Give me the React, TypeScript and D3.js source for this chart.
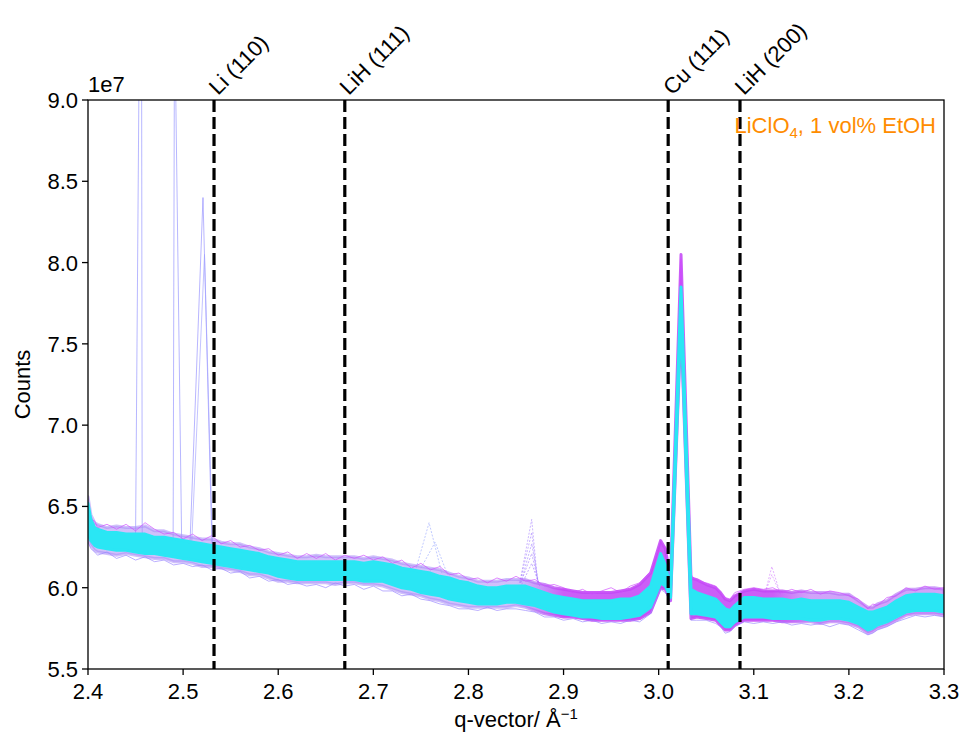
import React from "react";
import * as d3 from "d3";

// q grid (Å^-1) shared by the band envelopes
const Q = [
  2.400, 2.403, 2.407, 2.41, 2.42, 2.43, 2.44, 2.45, 2.46, 2.47, 2.48, 2.49, 2.50,
  2.51, 2.52, 2.53, 2.54, 2.55, 2.56, 2.57, 2.58, 2.59, 2.60, 2.61, 2.62, 2.63,
  2.64, 2.65, 2.66, 2.67, 2.68, 2.69, 2.70, 2.71, 2.72, 2.73, 2.74, 2.75, 2.76,
  2.77, 2.78, 2.79, 2.80, 2.81, 2.82, 2.83, 2.84, 2.85, 2.86, 2.87, 2.88, 2.89,
  2.90, 2.91, 2.92, 2.93, 2.94, 2.95, 2.96, 2.97, 2.98, 2.9915, 3.002, 3.007,
  3.0125, 3.0235, 3.034, 3.04, 3.05, 3.06, 3.065, 3.07, 3.075, 3.08, 3.09, 3.10,
  3.11, 3.12, 3.13, 3.14, 3.15, 3.16, 3.17, 3.18, 3.19, 3.20, 3.21, 3.22, 3.225,
  3.23, 3.24, 3.25, 3.26, 3.27, 3.28, 3.29, 3.30,
];
// outer envelope of all scans (counts / 1e7)
const TOP = [
  6.56, 6.45, 6.40, 6.39, 6.37, 6.38, 6.37, 6.37, 6.38, 6.35, 6.35, 6.33, 6.32,
  6.31, 6.30, 6.30, 6.28, 6.27, 6.27, 6.25, 6.24, 6.22, 6.21, 6.20, 6.19, 6.19,
  6.20, 6.19, 6.19, 6.19, 6.19, 6.18, 6.19, 6.18, 6.17, 6.15, 6.14, 6.13, 6.12,
  6.11, 6.09, 6.07, 6.06, 6.04, 6.04, 6.04, 6.05, 6.05, 6.05, 6.03, 6.02, 6.00,
  5.99, 5.98, 5.97, 5.97, 5.97, 5.97, 5.98, 5.99, 6.02, 6.09, 6.29, 6.24,
  6.06, 8.05, 6.06, 6.05, 6.02, 6.00, 5.97, 5.93, 5.92, 5.95, 5.98, 5.99,
  5.98, 5.98, 5.98, 5.97, 5.98, 5.97, 5.97, 5.97, 5.96, 5.96, 5.92, 5.88, 5.88,
  5.90, 5.92, 5.96, 5.99, 5.99, 6.00, 6.00, 5.99,
];
const BOT = [
  6.30, 6.26, 6.23, 6.22, 6.21, 6.20, 6.21, 6.20, 6.19, 6.18, 6.18, 6.16, 6.16,
  6.15, 6.13, 6.13, 6.12, 6.11, 6.10, 6.08, 6.08, 6.06, 6.04, 6.04, 6.03, 6.03,
  6.03, 6.03, 6.02, 6.03, 6.03, 6.02, 6.02, 6.01, 5.99, 5.97, 5.96, 5.95, 5.93,
  5.92, 5.90, 5.89, 5.88, 5.88, 5.88, 5.88, 5.88, 5.89, 5.88, 5.86, 5.84, 5.83,
  5.82, 5.82, 5.81, 5.80, 5.80, 5.80, 5.80, 5.80, 5.81, 5.85, 6.00, 5.99,
  5.92, 7.62, 5.81, 5.82, 5.81, 5.80, 5.77, 5.74, 5.74, 5.77, 5.80, 5.80,
  5.80, 5.80, 5.79, 5.79, 5.79, 5.79, 5.78, 5.79, 5.79, 5.78, 5.76, 5.72, 5.73,
  5.75, 5.77, 5.80, 5.83, 5.84, 5.84, 5.84, 5.83,
];
// dense (cyan) core of the scans
const CYAN_TOP = [
  6.52, 6.42, 6.37, 6.36, 6.34, 6.34, 6.33, 6.33, 6.33, 6.31, 6.31, 6.30, 6.29,
  6.28, 6.27, 6.26, 6.25, 6.24, 6.23, 6.22, 6.21, 6.19, 6.18, 6.17, 6.16, 6.16,
  6.16, 6.16, 6.16, 6.16, 6.16, 6.15, 6.16, 6.15, 6.14, 6.12, 6.11, 6.10, 6.09,
  6.07, 6.06, 6.04, 6.03, 6.01, 6.00, 6.00, 6.01, 6.01, 6.01, 5.99, 5.97, 5.95,
  5.94, 5.93, 5.92, 5.92, 5.92, 5.92, 5.93, 5.93, 5.95, 6.01, 6.21, 6.14,
  6.00, 7.85, 5.99, 5.97, 5.95, 5.93, 5.90, 5.87, 5.86, 5.89, 5.94, 5.94,
  5.93, 5.93, 5.93, 5.92, 5.93, 5.92, 5.92, 5.92, 5.92, 5.91, 5.88, 5.85, 5.85,
  5.86, 5.88, 5.92, 5.95, 5.96, 5.96, 5.96, 5.95,
];
const CYAN_BOT = [
  6.33, 6.29, 6.26, 6.25, 6.24, 6.23, 6.23, 6.22, 6.21, 6.21, 6.20, 6.19, 6.18,
  6.17, 6.16, 6.15, 6.14, 6.13, 6.12, 6.11, 6.10, 6.09, 6.07, 6.06, 6.05, 6.05,
  6.05, 6.05, 6.05, 6.05, 6.05, 6.04, 6.04, 6.04, 6.02, 6.00, 5.99, 5.97, 5.96,
  5.95, 5.93, 5.92, 5.91, 5.90, 5.90, 5.90, 5.91, 5.91, 5.90, 5.89, 5.87, 5.85,
  5.84, 5.83, 5.82, 5.82, 5.81, 5.81, 5.81, 5.82, 5.83, 5.88, 6.03, 6.01,
  5.94, 7.68, 5.84, 5.84, 5.83, 5.82, 5.79, 5.76, 5.76, 5.79, 5.82, 5.82,
  5.82, 5.81, 5.81, 5.81, 5.81, 5.80, 5.80, 5.81, 5.81, 5.80, 5.78, 5.74, 5.75,
  5.77, 5.79, 5.82, 5.85, 5.86, 5.86, 5.86, 5.85,
];
// single noisy scans along the upper (magenta) and lower (violet) edges
const EDGE_UPPER = [
  6.50, 6.42, 6.41, 6.37, 6.39, 6.36, 6.39, 6.35, 6.40, 6.36, 6.33, 6.34, 6.30,
  6.33, 6.29, 6.32, 6.27, 6.29, 6.25, 6.26, 6.23, 6.24, 6.20, 6.22, 6.18, 6.21,
  6.18, 6.21, 6.17, 6.20, 6.18, 6.20, 6.17, 6.19, 6.15, 6.17, 6.12, 6.15, 6.11,
  6.13, 6.08, 6.09, 6.05, 6.06, 6.03, 6.06, 6.04, 6.07, 6.04, 6.05, 6.01, 6.02,
  6.00, 5.97, 5.99, 5.96, 5.98, 6.00, 5.97, 6.01, 6.03, 6.10, 6.27, 6.25,
  6.07, 8.02, 6.08, 6.04, 6.03, 6.01, 5.96, 5.94, 5.93, 5.97, 5.99, 6.00,
  5.99, 6.00, 5.97, 5.99, 5.97, 5.99, 5.96, 5.98, 5.97, 5.95, 5.93, 5.87, 5.90,
  5.89, 5.94, 5.95, 6.00, 5.98, 6.01, 5.99, 6.00,
];
const EDGE_LOWER = [
  6.28, 6.24, 6.22, 6.20, 6.22, 6.18, 6.20, 6.17, 6.19, 6.16, 6.17, 6.14, 6.15,
  6.13, 6.14, 6.11, 6.12, 6.09, 6.10, 6.06, 6.07, 6.04, 6.05, 6.02, 6.03, 6.01,
  6.02, 6.00, 6.03, 6.01, 6.02, 5.99, 6.01, 5.98, 5.98, 5.95, 5.96, 5.93, 5.92,
  5.90, 5.89, 5.87, 5.87, 5.86, 5.88, 5.86, 5.87, 5.87, 5.86, 5.85, 5.82, 5.82,
  5.80, 5.81, 5.79, 5.80, 5.78, 5.79, 5.78, 5.80, 5.79, 5.84, 5.99, 5.97,
  5.92, 7.60, 5.80, 5.80, 5.80, 5.78, 5.76, 5.72, 5.73, 5.76, 5.79, 5.78,
  5.79, 5.78, 5.79, 5.77, 5.78, 5.77, 5.78, 5.76, 5.78, 5.77, 5.74, 5.71, 5.72,
  5.74, 5.76, 5.79, 5.81, 5.83, 5.82, 5.83, 5.82,
];

// isolated outlier scans (spikes and small bumps)
const SPIKE_TRACES = [
  { q: [2.4500, 2.4560, 2.4570], v: [6.30, 11.0, 6.28], c: "#8d8dff" },
  { q: [2.4895, 2.4910, 2.4985], v: [6.28, 9.6, 6.27], c: "#8d8dff" },
  { q: [2.5073, 2.5209, 2.5304], v: [6.28, 8.40, 6.25], c: "#8f8aff" },
  { q: [2.5090, 2.5225, 2.5310], v: [6.27, 8.05, 6.25], c: "#a0a0ff" },
];
const BUMP_TRACES = [
  { q: [2.745, 2.7586, 2.772], v: [6.12, 6.40, 6.09], c: "#8fa0ff" },
  { q: [2.750, 2.765, 2.778], v: [6.12, 6.28, 6.08], c: "#8fa0ff" },
  { q: [2.854, 2.8665, 2.873], v: [6.03, 6.42, 6.02], c: "#a27cff" },
  { q: [2.854, 2.8665, 2.873], v: [6.03, 6.34, 6.02], c: "#a27cff" },
  { q: [2.855, 2.8665, 2.874], v: [6.03, 6.27, 6.02], c: "#9a7aff" },
  { q: [2.855, 2.8665, 2.874], v: [6.03, 6.21, 6.02], c: "#9a70ff" },
  { q: [2.856, 2.8665, 2.875], v: [6.02, 6.15, 6.01], c: "#9a70ff" },
  { q: [3.112, 3.119, 3.128], v: [5.97, 6.13, 5.96], c: "#d074ff" },
  { q: [3.112, 3.119, 3.128], v: [5.97, 6.08, 5.96], c: "#d074ff" },
];

const REF_Q = [2.5325, 2.670, 3.010, 3.0855];
const REF_LABELS = ["Li (110)", "LiH (111)", "Cu (111)", "LiH (200)"];
const X_TICKS = [2.4, 2.5, 2.6, 2.7, 2.8, 2.9, 3.0, 3.1, 3.2, 3.3];
const Y_TICKS = [5.5, 6.0, 6.5, 7.0, 7.5, 8.0, 8.5, 9.0];

const W = 965;
const H = 738;
const L = 88, R = 944, T = 100, B = 669;
const FONT = "'Liberation Sans', Arial, sans-serif";

export default function App() {
  const x = d3.scaleLinear().domain([2.4, 3.3]).range([L, R]);
  const y = d3.scaleLinear().domain([5.5, 9.0]).range([B, T]);
  const idx = Q.map((_, i) => i);
  const off = (q: number) => (x(q) - L) / (R - L);

  const outerArea = d3.area<number>()
    .x((i) => x(Q[i]))
    .y0((i) => y(BOT[i]))
    .y1((i) => y(TOP[i]));
  const coreArea = d3.area<number>()
    .x((i) => x(Q[i]))
    .y0((i) => y(CYAN_BOT[i]))
    .y1((i) => y(CYAN_TOP[i]));
  const seriesLine = (vals: number[]) =>
    d3.line<number>().x((i) => x(Q[i])).y((i) => y(vals[i]))(idx) || "";
  const traceLine = (t: { q: number[]; v: number[] }) =>
    d3.line<number>().x((i) => x(t.q[i])).y((i) => y(t.v[i]))(t.q.map((_, i) => i)) || "";

  return (
    <svg width={W} height={H} style={{ position: "absolute", left: 0, top: 0, background: "#fff" }}
      fontFamily={FONT}>
      <defs>
        <clipPath id="plot">
          <rect x={L} y={T} width={R - L} height={B - T} />
        </clipPath>
        <linearGradient id="fringe" gradientUnits="userSpaceOnUse" x1={L} x2={R} y1={0} y2={0}>
          <stop offset={0} stopColor="#a98cf7" stopOpacity={0.55} />
          <stop offset={off(2.85)} stopColor="#a98cf7" stopOpacity={0.55} />
          <stop offset={off(2.9)} stopColor="#c448f6" stopOpacity={0.88} />
          <stop offset={off(3.12)} stopColor="#c448f6" stopOpacity={0.88} />
          <stop offset={off(3.16)} stopColor="#b46cf6" stopOpacity={0.62} />
          <stop offset={1} stopColor="#b46cf6" stopOpacity={0.62} />
        </linearGradient>
      </defs>
      <g clipPath="url(#plot)">
        {SPIKE_TRACES.map((t, k) => (
          <path key={"s" + k} d={traceLine(t)} fill="none" stroke={t.c} strokeWidth={0.8} strokeOpacity={0.8} />
        ))}
        {BUMP_TRACES.map((t, k) => (
          <path key={"b" + k} d={traceLine(t)} fill="none" stroke={t.c} strokeWidth={0.8}
            strokeOpacity={0.7} strokeDasharray="2,1.5" />
        ))}
        <path d={outerArea(idx) || ""} fill="url(#fringe)" stroke="url(#fringe)" strokeWidth={3}
          strokeLinejoin="round" />
        <path d={seriesLine(EDGE_UPPER)} fill="none" stroke="#cf4cff" strokeWidth={0.9} strokeOpacity={0.75} />
        <path d={seriesLine(EDGE_LOWER)} fill="none" stroke="#9a86ff" strokeWidth={0.9} strokeOpacity={0.75} />
        <path d={coreArea(idx) || ""} fill="#2ae6f4" stroke="#2ae6f4" strokeWidth={3} strokeLinejoin="round" />
      </g>

      {REF_Q.map((q, k) => (
        <line key={"r" + k} x1={x(q)} x2={x(q)} y1={T} y2={B} stroke="#000" strokeWidth={3.2}
          strokeDasharray="12,5" />
      ))}

      <rect x={L} y={T} width={R - L} height={B - T} fill="none" stroke="#000" strokeWidth={1.3} />

      {X_TICKS.map((t) => (
        <g key={"x" + t}>
          <line x1={x(t)} x2={x(t)} y1={B} y2={B + 6} stroke="#000" strokeWidth={1.3} />
          <text x={x(t)} y={B + 30} fontSize={22} textAnchor="middle">{t.toFixed(1)}</text>
        </g>
      ))}
      {Y_TICKS.map((t) => (
        <g key={"y" + t}>
          <line x1={L - 6} x2={L} y1={y(t)} y2={y(t)} stroke="#000" strokeWidth={1.3} />
          <text x={L - 10} y={y(t) + 8} fontSize={22} textAnchor="end">{t.toFixed(1)}</text>
        </g>
      ))}
      <text x={L} y={T - 8} fontSize={22}>1e7</text>
      <text x={(L + R) / 2} y={B + 58} fontSize={22} textAnchor="middle">
        q-vector/ Å<tspan dy={-8} fontSize={15}>−1</tspan>
      </text>
      <text transform={`translate(30, ${(T + B) / 2}) rotate(-90)`} fontSize={22} textAnchor="middle">Counts</text>

      {REF_Q.map((q, k) => (
        <text key={"l" + k} transform={`translate(${x(q) + 4}, ${T - 4}) rotate(-45)`} fontSize={22}>
          {REF_LABELS[k]}
        </text>
      ))}

      <text x={R - 8} y={T + 33} fontSize={22} textAnchor="end" fill="#ff8c00">
        LiClO<tspan dy={5} fontSize={15}>4</tspan><tspan dy={-5}>, 1 vol% EtOH</tspan>
      </text>
    </svg>
  );
}
